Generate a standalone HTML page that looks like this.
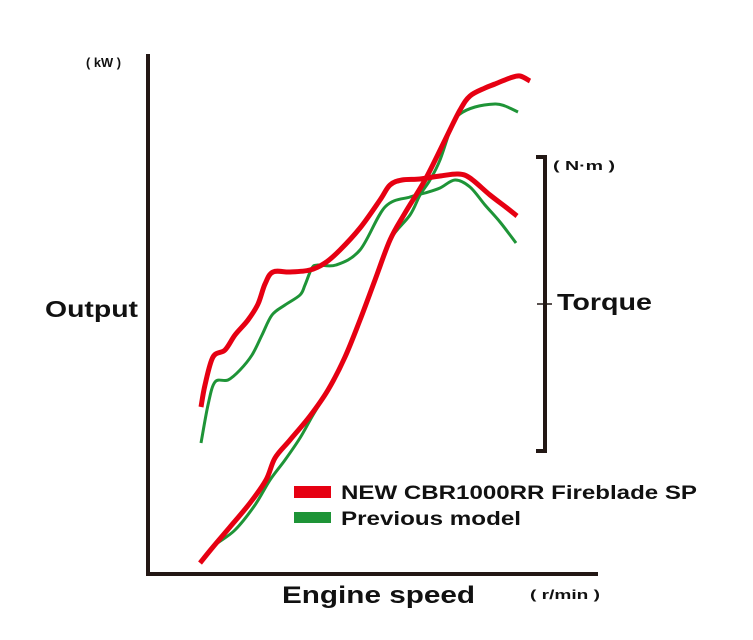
<!DOCTYPE html>
<html><head><meta charset="utf-8"><style>
html,body{margin:0;padding:0;background:#fff;width:753px;height:640px;overflow:hidden}
svg text{font-family:"Liberation Sans",Arial,sans-serif;font-weight:bold;fill:#111}
</style></head><body>
<svg id="chart" width="753" height="640" viewBox="0 0 753 640">
<g id="axes">
<line x1="148" y1="54" x2="148" y2="576" stroke="#231815" stroke-width="4"/>
<line x1="146" y1="574" x2="598" y2="574" stroke="#231815" stroke-width="4"/>
<path d="M536 157 H545 V451 H536" fill="none" stroke="#231815" stroke-width="4"/>
<line x1="537" y1="304" x2="552" y2="304" stroke="#231815" stroke-width="1.5"/>
</g>
<text x="86" y="67" font-size="13" textLength="35" lengthAdjust="spacingAndGlyphs">( kW )</text>
<text x="45" y="317" font-size="23" textLength="93" lengthAdjust="spacingAndGlyphs">Output</text>
<text x="553" y="170" font-size="13" textLength="62" lengthAdjust="spacingAndGlyphs">( N·m )</text>
<text x="557" y="310" font-size="23" textLength="95" lengthAdjust="spacingAndGlyphs">Torque</text>
<text x="282" y="603" font-size="24" textLength="193" lengthAdjust="spacingAndGlyphs">Engine speed</text>
<text x="530" y="599" font-size="13" textLength="70" lengthAdjust="spacingAndGlyphs">( r/min )</text>
<g id="series"></g>
<g>
<rect x="294" y="486" width="37" height="12" fill="#e60012"/>
<text x="341" y="499" font-size="19" textLength="356" lengthAdjust="spacingAndGlyphs">NEW CBR1000RR Fireblade SP</text>
<rect x="294" y="512" width="37" height="11" fill="#1e9437"/>
<text x="341" y="525" font-size="19" textLength="180" lengthAdjust="spacingAndGlyphs">Previous model</text>
</g>
</svg>
<script>
// data in abstract units: x = engine speed units, y = relative value units
const newPowerX = [13,16.25,20.5,25.5,29.5,31.75,35.5,40.5,45,49.25,53,56.75,60.5,64.25,69.25,74.25,78,80.5,84.25,86.75,90.5,93,95.5];
const newPowerY = [2.4,5.6,9.6,14.4,19,23.4,27,31.8,37,43.6,51,59,67,72.4,79,87,93,95.8,97.4,98.2,99.4,99.8,98.8];
const prevPowerX = [13.75,16.75,21.75,26.75,30.5,34.25,38,41.25,45,49.25,53,56.75,60.5,65.5,68,70.5,73,76,78,81.75,86.75,89.25,92.5];
const prevPowerY = [3.4,6,9,14,19,23,27.4,32,37,43.6,51,59,67,72,76,79,83,90,92.2,93.6,94.2,93.8,92.6];
const newTorqueX = [13.25,14.25,16.25,19.25,21.75,25,27.5,29.25,31.25,35.5,40.5,44.25,48,53,58,60.5,63.5,68,73,77.5,80.5,85.5,89.75,92.25];
const newTorqueY = [33.6,38,43.6,45,48,51,54.2,58.2,60.6,60.6,61,62.4,65,69.4,75,78,79,79.2,79.8,80.2,79.4,76,73.4,71.8];
const prevTorqueX = [13.25,15,16.75,20,23,26,28.5,31,34.25,38,39.25,41,42.5,47,53,59.25,65.5,69.25,73,76.75,80.5,84.25,88,92];
const prevTorqueY = [26.4,34,38.6,39,41,44,48,52,54,56,58,61.4,62,62,65,73.6,75.6,76.4,77.4,79,77.6,74,70.6,66.4];

function xScale(v){ return 148 + v*4; }
function yScale(v){ return 575 - v*5; }
const g = document.getElementById('series');
function draw(xs, ys, color, w, name){
  const pts = xs.map((x,i)=>[xScale(x), yScale(ys[i])]);
  let d = 'M' + pts[0][0].toFixed(1) + ' ' + pts[0][1].toFixed(1);
  for (let i=0;i<pts.length-1;i++){
    const p0 = pts[Math.max(0,i-1)], p1 = pts[i], p2 = pts[i+1], p3 = pts[Math.min(pts.length-1,i+2)];
    const c1x = p1[0] + (p2[0]-p0[0])/6, c1y = p1[1] + (p2[1]-p0[1])/6;
    const c2x = p2[0] - (p3[0]-p1[0])/6, c2y = p2[1] - (p3[1]-p1[1])/6;
    d += 'C' + c1x.toFixed(1)+' '+c1y.toFixed(1)+' '+c2x.toFixed(1)+' '+c2y.toFixed(1)+' '+p2[0].toFixed(1)+' '+p2[1].toFixed(1);
  }
  const p = document.createElementNS('http://www.w3.org/2000/svg','path');
  p.setAttribute('d', d);
  p.setAttribute('fill','none');
  p.setAttribute('stroke', color);
  p.setAttribute('stroke-width', w);
  p.setAttribute('stroke-linejoin','round');
  p.setAttribute('stroke-linecap','butt');
  
  
  g.appendChild(p);
}
draw(prevPowerX, prevPowerY, '#1e9437', 3, 'previous-power-line');
draw(prevTorqueX, prevTorqueY, '#1e9437', 3, 'previous-torque-line');
draw(newPowerX, newPowerY, '#e60012', 5, 'new-power-line');
draw(newTorqueX, newTorqueY, '#e60012', 5, 'new-torque-line');
</script>
</body></html>
